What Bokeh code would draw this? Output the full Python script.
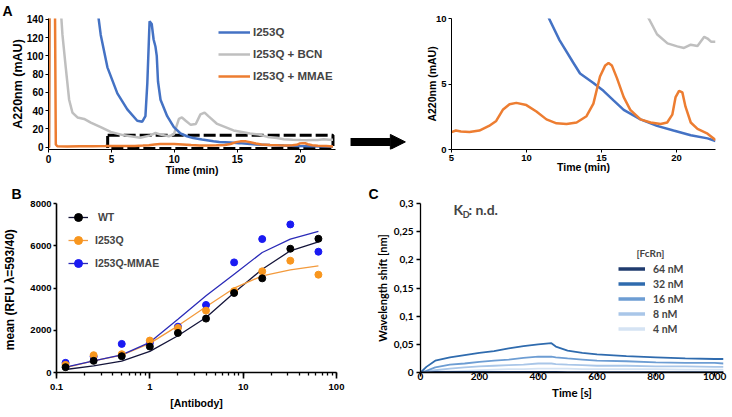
from bokeh.plotting import figure
from bokeh.layouts import row, column
from bokeh.models import (Range1d, Legend, LegendItem, BoxAnnotation, Arrow, NormalHead,
                          Label, FixedTicker, CustomJSTickFormatter, Title)
from bokeh.embed import file_html
from bokeh.resources import INLINE

ARIAL = "Liberation Sans"
CAL = "Lato"

# ---------------- Panel A data (HPLC traces) ----------------
blue_t = [3.85, 4.15, 4.68, 5.47, 6.26, 7.05, 7.45, 7.7, 7.85, 8.03, 8.2, 8.35, 8.5, 8.6, 8.7, 8.9,
          9.43, 9.96, 10.49, 11.0, 11.5, 12.2, 13.1, 13.57, 14.46, 15.13, 15.8, 16.48, 17.6, 18.7,
          19.8, 20.95, 22.07, 22.6]
blue_v = [155, 123, 87.5, 59, 41.5, 29, 28, 34, 70, 138, 135, 118, 110, 100, 72, 52,
          34, 22, 15, 12, 10, 8.35, 6.66, 5.8, 5.08, 4.48, 3.75, 3.03, 2.3, 1.8,
          1.45, 1.09, 0.85, 0.65]

gray_t = [0.0, 0.06, 0.15, 0.85, 0.98, 1.11, 1.37, 1.64, 1.9, 2.3, 2.83, 3.36, 4.15, 4.94, 6.0, 7.3,
          8.1, 8.5, 8.9, 9.56, 9.96, 10.36, 10.6, 10.9, 11.3, 11.7, 12.07, 12.4, 12.7, 13.4, 14.7,
          16.0, 16.7, 17.4, 18.15, 18.7, 19.4, 20.05, 20.5, 20.95, 21.4, 21.85, 22.07, 22.3, 22.6]
gray_v = [0, 0, 300, 300, 150, 123, 87.5, 52, 38, 32.6, 31, 27, 22, 16.7, 13, 10.3,
          13, 15.6, 13.8, 12, 14, 31, 32.6, 29, 24.5, 25.5, 36, 38, 34, 25.5, 18.4,
          15, 14, 11.3, 10, 8.8, 8.1, 7.87, 7.75, 8.0, 7.9, 8.6, 8.47, 8.23, 8.23]

orange_t = [0.0, 0.04, 0.12, 0.45, 0.58, 0.7, 1.5, 2.5, 3.5, 4.5, 5.0, 5.29, 5.63, 6.2, 6.86, 7.5,
            7.98, 8.42, 8.87, 9.32, 9.99, 10.66, 11.33, 12.0, 12.67, 13.34, 14.0, 14.46, 14.9,
            15.25, 15.47, 15.69, 16.03, 16.48, 16.92, 17.6, 18.27, 18.94, 19.38, 19.72, 19.94,
            20.17, 20.39, 20.6, 20.95, 21.4, 22.07, 22.6]
orange_v = [0, 0, 300, 300, 3, 1.0, 0.9, 1.0, 1.1, 1.2, 1.33, 1.45, 1.38, 1.33, 1.45, 1.8,
            2.18, 3.03, 3.46, 3.56, 3.39, 2.9, 2.3, 2.0, 1.94, 2.06, 2.54, 3.5, 5.57,
            6.42, 6.61, 6.42, 5.45, 4.0, 3.03, 2.3, 2.06, 1.94, 2.06, 2.66, 4.0,
            4.48, 4.36, 3.27, 2.06, 1.57, 1.21, 0.73]

a_labels = ["I253Q", "I253Q + BCN", "I253Q + MMAE"]
a_colors = ["#4472C4", "#BFBFBF", "#ED7D31"]
a_ticks_y = [0, 20, 40, 60, 80, 100, 120, 140]
a_ticks_x = [0, 5, 10, 15, 20]

# ---------------- Panel B data (binding curves) ----------------
conc = [0.125, 0.25, 0.5, 1, 2, 4, 8, 16, 32, 64]
wt = [252, 551, 772, 1228, 1874, 2551, 3764, 4457, 5859, 6331]
i253q = [362, 819, 866, 1512, 2110, 2929, 3850, 4788, 5292, 4630]
mmae = [457, 750, 1354, 1400, 2170, 3197, 5213, 6316, 7009, 5717]
wt_fit = [142, 315, 535, 1000, 1740, 2604, 3772, 4890, 5760, 6187]
i253q_fit = [236, 551, 819, 1380, 2209, 3110, 3990, 4576, 4860, 5050]
mmae_fit = [252, 551, 835, 1430, 2524, 3630, 4655, 5681, 6312, 6675]
b_labels = [" WT", "I253Q", "I253Q-MMAE"]
b_ticks_y = [0, 2000, 4000, 6000, 8000]

# ---------------- Panel C data (BLI sensorgrams) ----------------
c_time = [0, 20, 50, 100, 150, 200, 250, 300, 350, 400, 445, 460, 500, 550, 600, 700, 800, 900, 1000, 1030]
c_64 = [0, 0, 0.001, 0.001, 0.001, 0.001, 0.001, 0.001, 0.001, 0.001, 0.001, 0.001, 0.0005, 0.0005,
        0.0005, 0.0005, 0.0005, 0.0005, 0.0005, 0.0005]
c_32 = [0, 0.010, 0.021, 0.027, 0.031, 0.035, 0.038, 0.043, 0.047, 0.050, 0.052, 0.046, 0.039, 0.035,
        0.032, 0.029, 0.027, 0.025, 0.024, 0.024]
c_16 = [0, 0.003, 0.009, 0.014, 0.016, 0.019, 0.021, 0.023, 0.026, 0.028, 0.028, 0.027, 0.025, 0.023,
        0.021, 0.020, 0.018, 0.017, 0.017, 0.016]
c_8 = [0, 0.001, 0.004, 0.007, 0.009, 0.011, 0.012, 0.013, 0.014, 0.016, 0.016, 0.015, 0.014, 0.013,
       0.012, 0.012, 0.011, 0.011, 0.010, 0.010]
c_4 = [0, 0, 0.001, 0.002, 0.003, 0.004, 0.005, 0.006, 0.006, 0.007, 0.007, 0.007, 0.007, 0.006,
       0.006, 0.006, 0.006, 0.005, 0.005, 0.005]
c_labels = ["64 nM", "32 nM", "16 nM", "8 nM", "4 nM"]
c_colors = ["#1F3B6E", "#2F6BAE", "#6D9DD3", "#A9C6E8", "#D5E3F3"]
c_ticks_y = [0, 0.05, 0.1, 0.15, 0.2, 0.25, 0.3]
c_ticks_x = [0, 200, 400, 600, 800, 1000]


def mkfig(w, h, xr, yr, bl, br, bt, bb, **kw):
    p = figure(width=w, height=h, x_range=xr, y_range=yr, output_backend="svg",
               toolbar_location=None, min_border_left=bl, min_border_right=br,
               min_border_top=bt, min_border_bottom=bb, **kw)
    p.xgrid.visible = False
    p.ygrid.visible = False
    p.outline_line_color = None
    return p


def style_axis(ax, font, tick_size, label_size, tick_out, standoff, label_standoff, width=1.0):
    ax.major_label_text_font = font
    ax.major_label_text_font_style = "bold"
    ax.major_label_text_font_size = tick_size
    ax.major_label_text_color = "black"
    ax.axis_label_text_font = font
    ax.axis_label_text_font_style = "bold"
    ax.axis_label_text_font_size = label_size
    ax.axis_label_text_color = "black"
    ax.major_tick_in = 0
    ax.major_tick_out = tick_out
    ax.minor_tick_in = 0
    ax.minor_tick_out = 0
    ax.major_label_standoff = standoff
    ax.axis_label_standoff = label_standoff
    ax.axis_line_color = "black"
    ax.axis_line_width = width
    ax.major_tick_line_color = "black"
    ax.major_tick_line_width = width


def letter(p, txt, offset, standoff):
    p.add_layout(Title(text=txt, align="left", offset=offset, standoff=standoff,
                       vertical_align="bottom", text_font=ARIAL, text_font_style="bold",
                       text_font_size="14px", text_color="black"), "above")


ROW1_TOP, ROW1_BOTTOM = 17, 28
ROW2_TOP, ROW2_BOTTOM = 25, 45

# ---------------- Panel A (left) ----------------
pA1 = mkfig(345, 178, Range1d(0, 22.8), Range1d(-2.5, 141), 48, 10, ROW1_TOP, ROW1_BOTTOM)
pA1.add_layout(BoxAnnotation(left=4.7, right=22.6, bottom=-1.3, top=13, fill_alpha=0,
                             line_color="black", line_alpha=1, line_width=3, line_dash="12 4",
                             level="underlay"))
rg = pA1.line(gray_t, gray_v, line_color=a_colors[1], line_width=2.5)
rb = pA1.line(blue_t, blue_v, line_color=a_colors[0], line_width=2.5)
ro = pA1.line(orange_t, orange_v, line_color=a_colors[2], line_width=2.5)
pA1.yaxis.ticker = FixedTicker(ticks=a_ticks_y)
pA1.xaxis.ticker = FixedTicker(ticks=a_ticks_x)
pA1.yaxis.axis_label = "A220nm (mAU)"
pA1.xaxis.axis_label = "Time (min)"
style_axis(pA1.yaxis[0], ARIAL, "10px", "12.5px", 3, 2, -1)
style_axis(pA1.xaxis[0], ARIAL, "10px", "10.5px", 3, 2, -2)
legA = Legend(items=[LegendItem(label=a_labels[0], renderers=[rb]),
                     LegendItem(label=a_labels[1], renderers=[rg]),
                     LegendItem(label=a_labels[2], renderers=[ro])],
              location=(170, 63), glyph_width=32, glyph_height=20, label_height=20,
              label_standoff=3, spacing=2, padding=0, margin=0,
              label_text_font=ARIAL, label_text_font_style="bold", label_text_font_size="11.5px",
              border_line_color=None, background_fill_alpha=0)
pA1.add_layout(legA)
letter(pA1, "A", -46, 0)

# ---------------- Arrow ----------------
pArr = mkfig(63, 178, Range1d(0, 1), Range1d(0, 1), 0, 0, ROW1_TOP, ROW1_BOTTOM,
             x_axis_location=None, y_axis_location=None)
pArr.add_layout(Arrow(end=NormalHead(size=15, fill_color="black", line_color="black", line_width=1),
                      x_start=0.08, y_start=0.058, x_end=0.95, y_end=0.058,
                      line_width=8, line_color="black"))

# ---------------- Panel A (zoom) ----------------
pA2 = mkfig(324, 178, Range1d(5, 22.6), Range1d(0, 10), 43, 17, ROW1_TOP, ROW1_BOTTOM)
pA2.line(gray_t, gray_v, line_color=a_colors[1], line_width=2.5)
pA2.line(blue_t, blue_v, line_color=a_colors[0], line_width=2.5)
pA2.line(orange_t, orange_v, line_color=a_colors[2], line_width=2.5)
pA2.yaxis.ticker = FixedTicker(ticks=[0, 5, 10])
pA2.xaxis.ticker = FixedTicker(ticks=[5, 10, 15, 20])
pA2.yaxis.axis_label = "A220nm (mAU)"
pA2.xaxis.axis_label = "Time (min)"
style_axis(pA2.yaxis[0], ARIAL, "9.5px", "10.5px", 3, 2, -5)
style_axis(pA2.xaxis[0], ARIAL, "9.5px", "10.5px", 3, 2, -3)

# ---------------- Panel B ----------------
pB = mkfig(360, 239, Range1d(0.1, 100), Range1d(0, 8000), 50, 24, ROW2_TOP, ROW2_BOTTOM,
           x_axis_type="log")
lw = pB.line(conc, wt_fit, line_color="#15153A", line_width=1.3)
lq = pB.line(conc, i253q_fit, line_color="#F39A3C", line_width=1.3)
lm = pB.line(conc, mmae_fit, line_color="#2B2BB8", line_width=1.3)
sm = pB.scatter(conc, mmae, size=7, fill_color="#1A1AF2", line_color="#1A1AF2")
sq = pB.scatter(conc, i253q, size=7, fill_color="#F8961E", line_color="#F8961E")
sw = pB.scatter(conc, wt, size=7, fill_color="black", line_color="black")
pB.yaxis.ticker = FixedTicker(ticks=b_ticks_y)
pB.xaxis.formatter = CustomJSTickFormatter(code="return String(parseFloat(tick.toPrecision(6)));")
pB.yaxis.axis_label = "mean  (RFU \u03bb=593/40)"
pB.xaxis.axis_label = "[Antibody]"
style_axis(pB.yaxis[0], ARIAL, "9.5px", "12px", 3, 2, 10, 1.6)
style_axis(pB.xaxis[0], ARIAL, "9.5px", "10.5px", 6, 5, 4, 1.6)
pB.xaxis.minor_tick_out = 3
pB.xaxis.minor_tick_line_color = "black"
pB.xaxis.minor_tick_line_width = 1.3
legB = Legend(items=[LegendItem(label=b_labels[0], renderers=[lw, sw]),
                     LegendItem(label=b_labels[1], renderers=[lq, sq]),
                     LegendItem(label=b_labels[2], renderers=[lm, sm])],
              location=(12, 99), glyph_width=20, glyph_height=20, label_height=20,
              label_standoff=7, spacing=3, padding=0, margin=0,
              label_text_font=ARIAL, label_text_font_style="bold", label_text_font_size="10.5px",
              border_line_color=None, background_fill_alpha=0)
pB.add_layout(legB)
letter(pB, "B", -45, 4)

# ---------------- Panel C ----------------
pC = mkfig(372, 239, Range1d(0, 1030), Range1d(0, 0.3), 60, 9, ROW2_TOP, ROW2_BOTTOM)
series = [c_64, c_32, c_16, c_8, c_4]
for vals, col in reversed(list(zip(series, c_colors))):
    pC.line(c_time, vals, line_color=col, line_width=1.8)
keys = [pC.line(c_time, vals, line_color=col, line_width=3.5, visible=False)
        for vals, col in zip(series, c_colors)]
pC.yaxis.ticker = FixedTicker(ticks=c_ticks_y)
pC.yaxis.formatter = CustomJSTickFormatter(
    code="var v = Math.round(tick*100)/100; return v === 0 ? '0' : String(v).replace('.', ',');")
pC.xaxis.ticker = FixedTicker(ticks=c_ticks_x)
pC.yaxis.axis_label = "Wavelength shift [nm]"
pC.xaxis.axis_label = "Time [s]"
style_axis(pC.yaxis[0], CAL, "10px", "11px", 4, 3, 2, 1.3)
style_axis(pC.xaxis[0], CAL, "10px", "11.5px", 4, -4, 3, 1.3)
legC = Legend(items=[LegendItem(label=lab, renderers=[k]) for lab, k in zip(c_labels, keys)],
              location=(198, 37), glyph_width=27, glyph_height=13, label_height=13,
              label_standoff=8, spacing=2, padding=0, margin=0,
              inactive_fill_alpha=0,
              label_text_font=CAL, label_text_font_style="bold", label_text_font_size="10.5px",
              border_line_color=None, background_fill_alpha=0)
pC.add_layout(legC)
pC.add_layout(Label(x=734, y=0.213, text="[FcRn]", text_font=CAL, text_font_style="bold",
                    text_font_size="10px", text_baseline="middle", text_align="left"))
pC.add_layout(Label(x=112, y=0.289, text="K", text_font=CAL, text_font_style="bold",
                    text_font_size="14px", text_baseline="middle", text_align="left"))
pC.add_layout(Label(x=144, y=0.281, text="D", text_font=CAL, text_font_style="bold",
                    text_font_size="9px", text_baseline="middle", text_align="left"))
pC.add_layout(Label(x=163, y=0.289, text=": n.d.", text_font=CAL, text_font_style="bold",
                    text_font_size="14px", text_baseline="middle", text_align="left"))
letter(pC, "C", -52, 4)

layout = column(row(pA1, pArr, pA2), row(pB, pC))
open("out.html", "w").write(file_html(layout, INLINE))
